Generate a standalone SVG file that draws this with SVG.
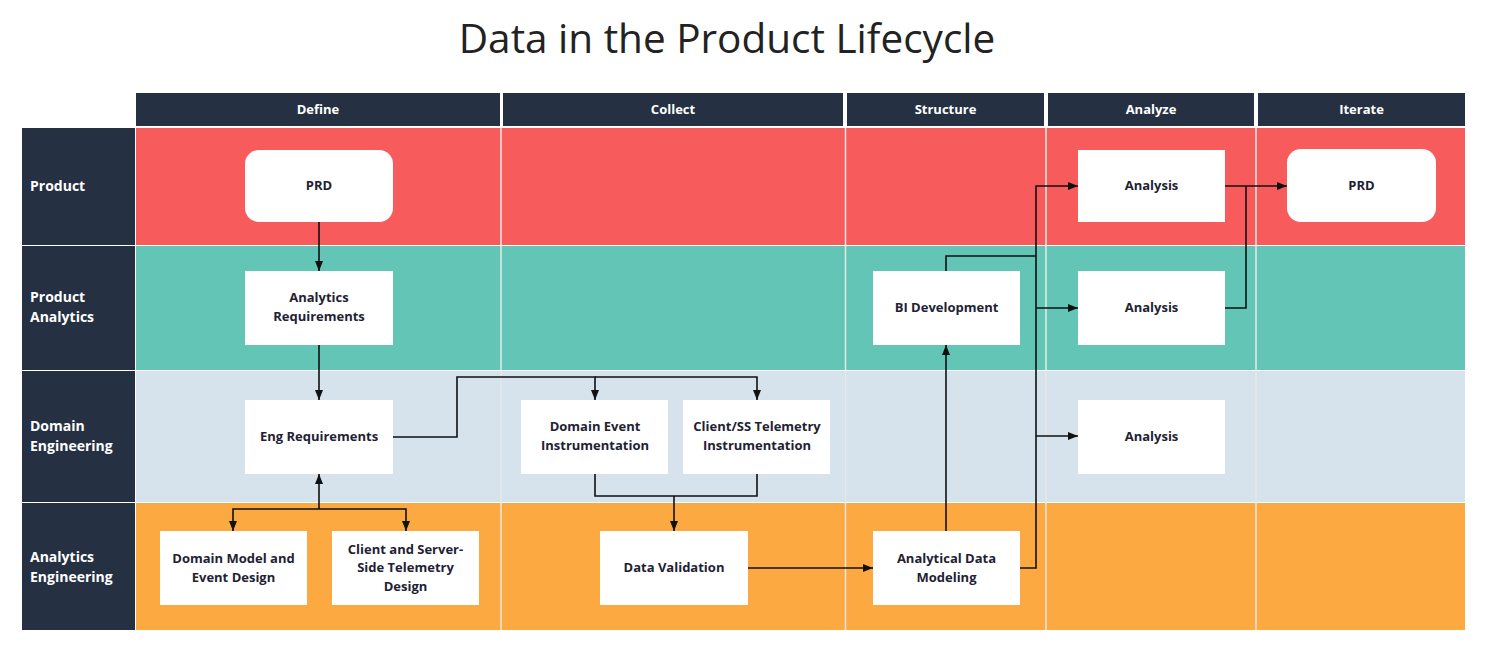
<svg xmlns="http://www.w3.org/2000/svg" width="1502" height="668" viewBox="0 0 1502 668">
<defs>
<marker id="arr" viewBox="0 0 10 10" refX="10" refY="5" markerWidth="11" markerHeight="10" markerUnits="userSpaceOnUse" orient="auto">
<path d="M0,1 L10,5 L0,9 Z" fill="#111"/>
</marker>
<style>
.hdr{fill:#253142}
.ht{font-family:"Open Sans","Liberation Sans",sans-serif;font-weight:700;font-size:13px;fill:#fff;text-anchor:middle}
.lt{font-family:"Open Sans","Liberation Sans",sans-serif;font-weight:700;font-size:14px;fill:#fff}
.box{fill:#fff}
.nt{font-family:"Open Sans","Liberation Sans",sans-serif;font-weight:700;font-size:13px;fill:#1e2233;text-anchor:middle}
.c{fill:none;stroke:#111;stroke-width:1.6}
.div{stroke:#e8e8e8;stroke-width:1.5}
</style>
</defs>
<rect width="1502" height="668" fill="#fff"/>
<text x="727" y="53" font-family="'Open Sans','Liberation Sans',sans-serif" font-size="40.5" fill="#222" text-anchor="middle">Data in the Product Lifecycle</text>

<g id="lanes">
<rect x="136" y="128" width="1329" height="117" fill="#F85B5B"/>
<rect x="136" y="246" width="1329" height="124" fill="#62C5B5"/>
<rect x="136" y="371" width="1329" height="131" fill="#D6E2EC"/>
<rect x="136" y="503" width="1329" height="127" fill="#FCA942"/>
<line class="div" x1="501" y1="128" x2="501" y2="630"/>
<line class="div" x1="845.5" y1="128" x2="845.5" y2="630"/>
<line class="div" x1="1046" y1="128" x2="1046" y2="630"/>
<line class="div" x1="1256" y1="128" x2="1256" y2="630"/>
</g>

<g id="headers">
<rect class="hdr" x="136" y="93" width="364" height="33"/>
<rect class="hdr" x="503" y="93" width="340" height="33"/>
<rect class="hdr" x="847" y="93" width="197" height="33"/>
<rect class="hdr" x="1048" y="93" width="206" height="33"/>
<rect class="hdr" x="1258" y="93" width="207" height="33"/>
<text class="ht" x="318" y="114">Define</text>
<text class="ht" x="673" y="114">Collect</text>
<text class="ht" x="945.5" y="114">Structure</text>
<text class="ht" x="1151" y="114">Analyze</text>
<text class="ht" x="1361.5" y="114">Iterate</text>
</g>

<g id="rowlabels">
<rect class="hdr" x="22" y="128" width="113" height="117"/>
<rect class="hdr" x="22" y="246" width="113" height="124"/>
<rect class="hdr" x="22" y="371" width="113" height="131"/>
<rect class="hdr" x="22" y="503" width="113" height="127"/>
<text class="lt" x="30" y="191">Product</text>
<text class="lt" x="30" y="302">Product</text>
<text class="lt" x="30" y="322">Analytics</text>
<text class="lt" x="30" y="431">Domain</text>
<text class="lt" x="30" y="451">Engineering</text>
<text class="lt" x="30" y="562">Analytics</text>
<text class="lt" x="30" y="582">Engineering</text>
</g>

<g id="connectors">
<path class="c" d="M319,222 V271" marker-end="url(#arr)"/>
<path class="c" d="M319,345 V400" marker-end="url(#arr)"/>
<path class="c" d="M393,437 H457 V377 H595 V400" marker-end="url(#arr)"/>
<path class="c" d="M595,377 H757 V400" marker-end="url(#arr)"/>
<path class="c" d="M319,509 V474" marker-end="url(#arr)"/>
<path class="c" d="M319,509 H233 V531" marker-end="url(#arr)"/>
<path class="c" d="M319,509 H406 V531" marker-end="url(#arr)"/>
<path class="c" d="M595,474 V496 H757 V474"/>
<path class="c" d="M674,496 V531" marker-end="url(#arr)"/>
<path class="c" d="M748,568 H873" marker-end="url(#arr)"/>
<path class="c" d="M946,531 V345" marker-end="url(#arr)"/>
<path class="c" d="M1020,568 H1036 V186 H1078" marker-end="url(#arr)"/>
<path class="c" d="M1036,308 H1078" marker-end="url(#arr)"/>
<path class="c" d="M1036,436 H1078" marker-end="url(#arr)"/>
<path class="c" d="M946,271 V256 H1036"/>
<path class="c" d="M1225,186 H1287" marker-end="url(#arr)"/>
<path class="c" d="M1225,308 H1246 V186"/>
</g>

<g id="n-prd1"><rect class="box" x="245" y="150" width="148" height="72" rx="14"/><text class="nt" x="319" y="190">PRD</text></g>
<g id="n-areq"><rect class="box" x="245" y="271" width="148" height="74"/><text class="nt" x="319" y="302">Analytics</text><text class="nt" x="319" y="321">Requirements</text></g>
<g id="n-ereq"><rect class="box" x="245" y="400" width="148" height="74"/><text class="nt" x="319" y="441">Eng Requirements</text></g>
<g id="n-dmed"><rect class="box" x="160" y="531" width="147" height="74"/><text class="nt" x="233.5" y="563">Domain Model and</text><text class="nt" x="233.5" y="582">Event Design</text></g>
<g id="n-cstd"><rect class="box" x="332" y="531" width="147" height="74"/><text class="nt" x="405.5" y="554">Client and Server-</text><text class="nt" x="405.5" y="572">Side Telemetry</text><text class="nt" x="405.5" y="591">Design</text></g>
<g id="n-dei"><rect class="box" x="521" y="400" width="147" height="74"/><text class="nt" x="595" y="431">Domain Event</text><text class="nt" x="595" y="450">Instrumentation</text></g>
<g id="n-cti"><rect class="box" x="683" y="400" width="147" height="74"/><text class="nt" x="757" y="431">Client/SS Telemetry</text><text class="nt" x="757" y="450">Instrumentation</text></g>
<g id="n-dv"><rect class="box" x="600" y="531" width="148" height="74"/><text class="nt" x="674" y="572">Data Validation</text></g>
<g id="n-adm"><rect class="box" x="873" y="531" width="147" height="74"/><text class="nt" x="946.5" y="563">Analytical Data</text><text class="nt" x="946.5" y="582">Modeling</text></g>
<g id="n-bi"><rect class="box" x="873" y="271" width="147" height="74"/><text class="nt" x="946.5" y="312">BI Development</text></g>
<g id="n-an1"><rect class="box" x="1078" y="150" width="147" height="72"/><text class="nt" x="1151.5" y="190">Analysis</text></g>
<g id="n-an2"><rect class="box" x="1078" y="271" width="147" height="74"/><text class="nt" x="1151.5" y="312">Analysis</text></g>
<g id="n-an3"><rect class="box" x="1078" y="400" width="147" height="74"/><text class="nt" x="1151.5" y="441">Analysis</text></g>
<g id="n-prd2"><rect class="box" x="1287" y="149" width="149" height="73" rx="14"/><text class="nt" x="1361.5" y="190">PRD</text></g>
</svg>
